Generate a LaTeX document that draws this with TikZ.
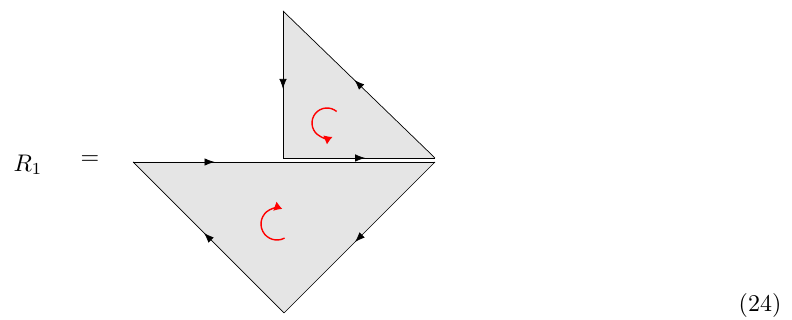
\documentclass[tikz,border=0pt]{standalone}
\usepackage{tikz}
\usetikzlibrary{arrows.meta,decorations.markings}

\begin{document}
\begin{tikzpicture}[
    x=1pt, y=1pt,
    face/.style={fill=black!10, draw=none},
    edge/.style={draw=black, line width=0.7pt},
    midarrow/.style={postaction={decorate}, decoration={markings,
        mark=at position #1 with {\arrow{Latex[length=10pt,width=7.5pt]}}}},
    orient/.style={draw=red, line width=1.4pt, -{Latex[length=8pt,width=10pt]}},
    eqtext/.style={inner sep=0pt, scale=2.4, transform shape}
]
\useasboundingbox (0,0) rectangle (792,320);

% --- CORNERS ---
\coordinate (utop)   at (283,309);
\coordinate (uleft)  at (283,162);
\coordinate (uright) at (435,162);
\coordinate (lleft)  at (133,158);
\coordinate (lright) at (435,158);
\coordinate (lbot)   at (284,7);
\coordinate (ucen)   at (327,197);
\coordinate (lcen)   at (277,96);

% --- LABELS ---
\node (lhs) [eqtext] at (28,155) {$R_1$};
\node (eq)  [eqtext] at (90,160) {$=$};
\node (num) [eqtext] at (760,14) {(24)};

% --- FACES ---
\fill [face] (utop) -- (uleft) -- (uright) -- cycle;
\fill [face] (lleft) -- (lright) -- (lbot) -- cycle;

% Upper triangle edges
\draw [edge, midarrow=0.53] (utop) -- (uleft);
\draw [edge, midarrow=0.54] (uleft) -- (uright);
\draw [edge, midarrow=0.53] (uright) -- (utop);

% Lower triangle edges
\draw [edge, midarrow=0.27] (lleft) -- (lright);
\draw [edge, midarrow=0.53] (lright) -- (lbot);
\draw [edge, midarrow=0.53] (lbot) -- (lleft);

% --- ORIENTATIONS ---
\draw [orient] ([shift={(50:15pt)}]ucen) arc[start angle=50, end angle=292, radius=15pt];
\draw [orient] ([shift={(-62:16pt)}]lcen) arc[start angle=-62, end angle=-290, radius=16pt];

\end{tikzpicture}
\end{document}
